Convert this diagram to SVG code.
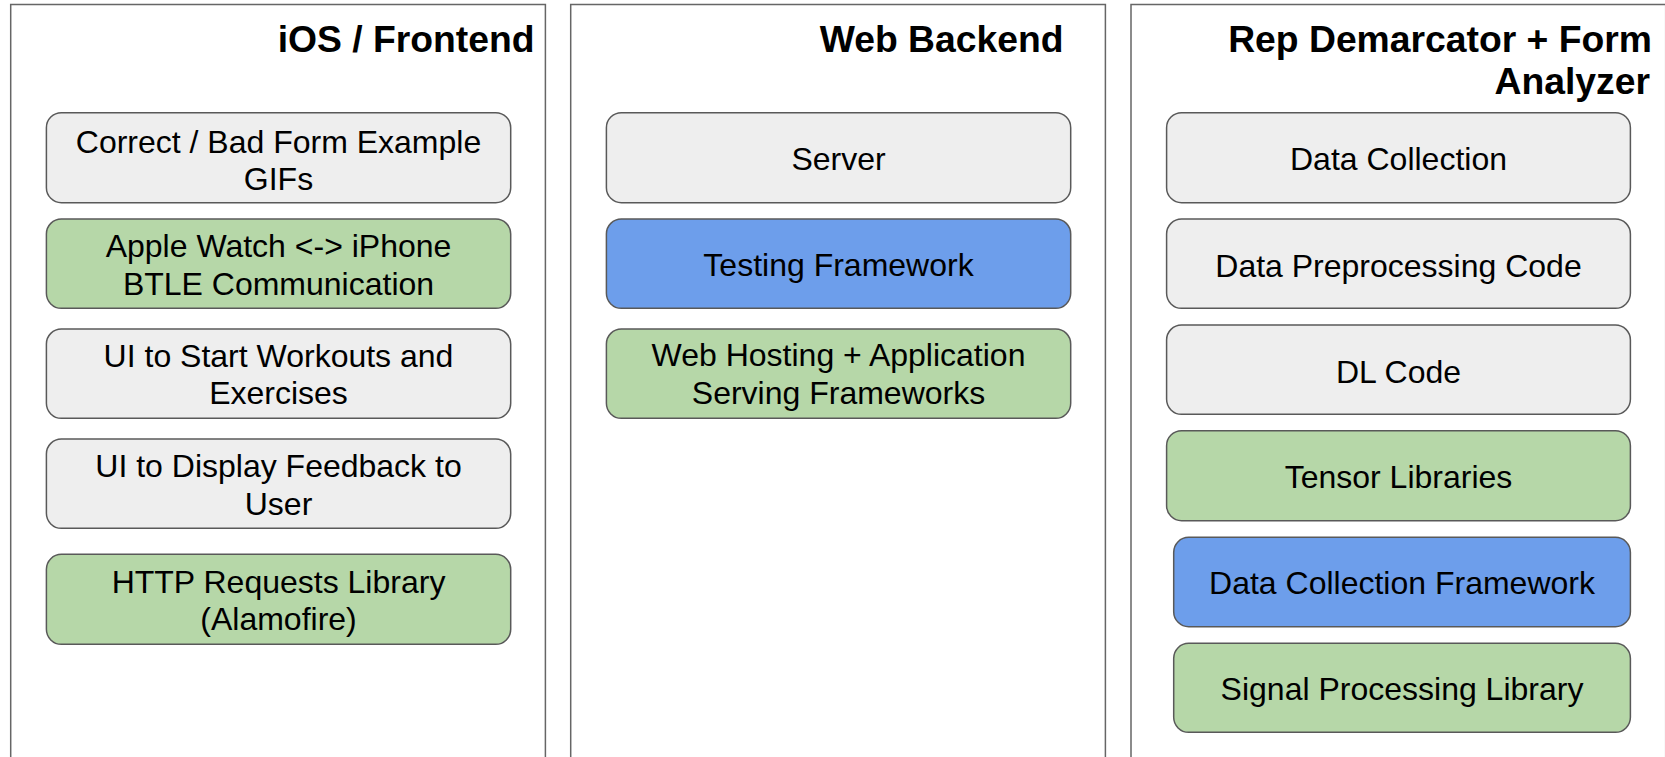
<svg xmlns="http://www.w3.org/2000/svg" width="1665" height="757" viewBox="0 0 1665 757">
<style>
.frame{fill:#ffffff;stroke:#666666;stroke-width:1.5}
.box{stroke:#595959;stroke-width:1.5}
.gray{fill:#eeeeee}
.green{fill:#b6d7a8}
.blue{fill:#6d9eeb}
.title{font-family:"Liberation Sans",Arial,sans-serif;font-weight:bold;font-size:37.3px;fill:#000000;text-anchor:end}
.lbl{font-family:"Liberation Sans",Arial,sans-serif;font-size:32px;fill:#000000;text-anchor:middle}
</style>
<rect x="0" y="0" width="1665" height="757" fill="#ffffff"/>
<g id="col-ios">
<rect class="frame" x="10.7" y="4.5" width="534.7" height="800"/>
<text class="title" x="534.6" y="51.5">iOS / Frontend</text>
</g>
<g id="col-web">
<rect class="frame" x="570.7" y="4.5" width="534.7" height="800"/>
<text class="title" x="1063.6" y="51.5">Web Backend</text>
</g>
<g id="col-rep">
<rect class="frame" x="1131" y="4.5" width="534.7" height="800"/>
<text class="title" x="1652" y="51.5">Rep Demarcator + Form</text>
<text class="title" x="1650" y="94">Analyzer</text>
</g>
<g id="connectors"></g>
<g id="n-gifs">
<rect class="box gray" x="46.4" y="112.7" width="464.3" height="90" rx="15"/>
<text class="lbl" x="278.5" y="152.5">Correct / Bad Form Example</text>
<text class="lbl" x="278.5" y="189.5">GIFs</text>
</g>
<g id="n-btle">
<rect class="box green" x="46.4" y="219" width="464.3" height="89.3" rx="15"/>
<text class="lbl" x="278.5" y="257">Apple Watch &lt;-&gt; iPhone</text>
<text class="lbl" x="278.5" y="295">BTLE Communication</text>
</g>
<g id="n-start">
<rect class="box gray" x="46.4" y="329" width="464.3" height="89.3" rx="15"/>
<text class="lbl" x="278.5" y="366.5">UI to Start Workouts and</text>
<text class="lbl" x="278.5" y="404">Exercises</text>
</g>
<g id="n-feedback">
<rect class="box gray" x="46.4" y="439" width="464.3" height="89.3" rx="15"/>
<text class="lbl" x="278.5" y="477">UI to Display Feedback to</text>
<text class="lbl" x="278.5" y="514.5">User</text>
</g>
<g id="n-http">
<rect class="box green" x="46.4" y="554.3" width="464.3" height="90" rx="15"/>
<text class="lbl" x="278.5" y="592.5">HTTP Requests Library</text>
<text class="lbl" x="278.5" y="630">(Alamofire)</text>
</g>
<g id="n-server">
<rect class="box gray" x="606.4" y="112.7" width="464.3" height="90" rx="15"/>
<text class="lbl" x="838.5" y="169.5">Server</text>
</g>
<g id="n-testing">
<rect class="box blue" x="606.4" y="219" width="464.3" height="89.3" rx="15"/>
<text class="lbl" x="838.5" y="276">Testing Framework</text>
</g>
<g id="n-hosting">
<rect class="box green" x="606.4" y="329" width="464.3" height="89.3" rx="15"/>
<text class="lbl" x="838.5" y="366">Web Hosting + Application</text>
<text class="lbl" x="838.5" y="403.5">Serving Frameworks</text>
</g>
<g id="n-datacollection">
<rect class="box gray" x="1166.6" y="112.7" width="463.8" height="90" rx="15"/>
<text class="lbl" x="1398.5" y="169.5">Data Collection</text>
</g>
<g id="n-preprocessing">
<rect class="box gray" x="1166.6" y="219" width="463.8" height="89.3" rx="15"/>
<text class="lbl" x="1398.5" y="277">Data Preprocessing Code</text>
</g>
<g id="n-dl">
<rect class="box gray" x="1166.6" y="325" width="463.8" height="89.3" rx="15"/>
<text class="lbl" x="1398.5" y="382.5">DL Code</text>
</g>
<g id="n-tensor">
<rect class="box green" x="1166.6" y="430.7" width="463.8" height="90" rx="15"/>
<text class="lbl" x="1398.5" y="488">Tensor Libraries</text>
</g>
<g id="n-dcframework">
<rect class="box blue" x="1173.7" y="537.3" width="456.7" height="89.4" rx="15"/>
<text class="lbl" x="1402" y="594">Data Collection Framework</text>
</g>
<g id="n-signal">
<rect class="box green" x="1173.7" y="643.3" width="456.7" height="89" rx="15"/>
<text class="lbl" x="1402" y="700">Signal Processing Library</text>
</g>
</svg>
